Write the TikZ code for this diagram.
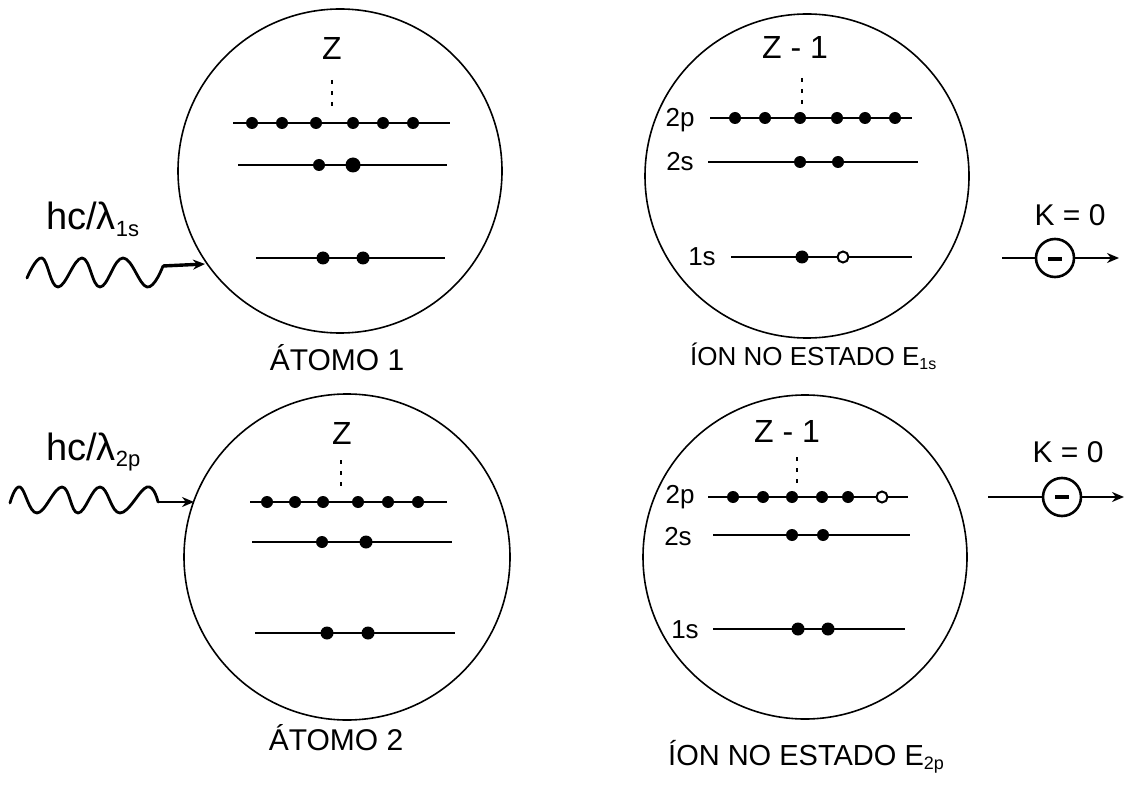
\documentclass[tikz,border=0pt]{standalone}
\usepackage{fontspec}
\setmainfont{Liberation Sans}
\usetikzlibrary{arrows.meta}
\begin{document}
\begin{tikzpicture}[x=1pt,y=-1pt,
  atom/.style={circle,draw,line width=1.6pt,inner sep=0pt,minimum size=#1},
  level/.style={line width=2.6pt},
  elec/.style={circle,draw,line width=2.6pt,inner sep=0pt,minimum size=38pt},
  wave/.style={line width=2.8pt,line cap=round,line join=round},
  arr/.style={line width=2.4pt,-{Stealth[length=12pt,width=10pt]}},
  lbl/.style={font=\fontsize{30}{32}\selectfont},
  zl/.style={font=\fontsize{32}{34}\selectfont},
  sl/.style={font=\fontsize{26}{28}\selectfont},
  hcl/.style={font=\fontsize{38}{40}\selectfont}
]
\fill[white] (0,0) rectangle (1126,799);
\useasboundingbox (0,0) rectangle (1126,799);

% ---------- circles ----------
\node[atom=324pt] (A1) at (340,171) {};
\node[atom=324pt] (I1) at (807,176) {};
\node[atom=326pt] (A2) at (347,557) {};
\node[atom=324pt] (I2) at (805,557) {};

% ---------- Atom 1 ----------
\node[zl] (z1) at (332,48) {Z};
\draw[line width=1.8pt,dash pattern=on 4pt off 7pt] (332,80) -- (332,108);
\draw[level] (233,123) -- (450,123);
\foreach \x in {252,282,316,353,383,413} \fill (\x,123) circle[radius=6pt];
\draw[level] (238,165) -- (447,165);
\fill (319,165) circle[radius=6pt];
\fill (353,165) circle[radius=7.5pt];
\draw[level] (256,258) -- (445,258);
\fill (323,258) circle[radius=6.5pt];
\fill (363,258) circle[radius=6.5pt];

% ---------- Ion 1 ----------
\node[zl] (z2) at (795,47) {Z - 1};
\draw[line width=1.8pt,dash pattern=on 4pt off 7pt] (802,78) -- (802,104);
\node[sl] (p2a) at (680,120) {2p};
\draw[level] (710,118) -- (912,118);
\foreach \x in {735,765,800,837,865,895} \fill (\x,118) circle[radius=6pt];
\node[sl] (s2a) at (680,162) {2s};
\draw[level] (708,162) -- (918,162);
\fill (800,162) circle[radius=6pt];
\fill (838,162) circle[radius=6pt];
\node[sl] (s1a) at (702,257) {1s};
\draw[level] (731,257) -- (912,257);
\fill (802,257) circle[radius=6.5pt];
\draw[line width=2pt,fill=white] (843,257) circle[radius=5.5pt];

% ---------- Atom 2 ----------
\node[zl] (z3) at (342,433) {Z};
\draw[line width=1.8pt,dash pattern=on 4pt off 7pt] (341,460) -- (341,488);
\draw[level] (250,502) -- (447,502);
\foreach \x in {267,295,323,358,388,418} \fill (\x,502) circle[radius=6pt];
\draw[level] (252,542) -- (452,542);
\fill (322,542) circle[radius=6pt];
\fill (366,542) circle[radius=6.5pt];
\draw[level] (255,633) -- (455,633);
\fill (327,633) circle[radius=6.5pt];
\fill (368,633) circle[radius=6.5pt];

% ---------- Ion 2 ----------
\node[zl] (z4) at (787,431) {Z - 1};
\draw[line width=1.8pt,dash pattern=on 4pt off 7pt] (797,457) -- (797,487);
\node[sl] (p2b) at (680,497) {2p};
\draw[level] (708,497) -- (908,497);
\foreach \x in {733,763,792,822,848} \fill (\x,497) circle[radius=6pt];
\draw[line width=2pt,fill=white] (882,497) circle[radius=5.5pt];
\node[sl] (s2b) at (678,537) {2s};
\draw[level] (713,535) -- (910,535);
\fill (792,535) circle[radius=6pt];
\fill (823,535) circle[radius=6pt];
\node[sl] (s1b) at (685,630) {1s};
\draw[level] (713,629) -- (905,629);
\fill (798,629) circle[radius=6.5pt];
\fill (828,629) circle[radius=6.5pt];

% ---------- photons ----------
\node[hcl,anchor=base west,inner sep=0pt] (h1) at (46,230) {hc/λ\textsubscript{\fontsize{22}{24}\selectfont 1s}};
\coordinate (w1s) at (163,266);
\draw[wave] plot[smooth,tension=0.7] coordinates {(27,278) (42,258) (58,287) (82,258) (100,287) (123,258) (147,287) (w1s)};
\coordinate (w1e) at (205,264);
\draw[arr,line width=3.4pt] (w1s) -- (w1e);

\node[hcl,anchor=base west,inner sep=0pt] (h2) at (46,460) {hc/λ\textsubscript{\fontsize{22}{24}\selectfont 2p}};
\coordinate (w2s) at (158,502);
\draw[wave] plot[smooth,tension=0.7] coordinates {(10,503) (20,487) (37,513) (62,487) (78,513) (100,487) (120,513) (147,487) (w2s)};
\coordinate (w2e) at (194,502);
\draw[arr] (w2s) -- (w2e);

% ---------- electrons ----------
\node[elec] (e1) at (1055,258) {};
\draw[line width=3.2pt] (1048,259) -- (1062,259);
\coordinate (e1a) at (1002,258);
\coordinate (e1b) at (1119,258);
\draw[line width=2.6pt] (e1a) -- (e1.west);
\draw[arr] (e1.east) -- (e1b);
\node[lbl] (k1) at (1070,215) {K = 0};

\node[elec] (e2) at (1062,497) {};
\draw[line width=3.2pt] (1055,497) -- (1069,497);
\coordinate (e2a) at (988,497);
\coordinate (e2b) at (1124,497);
\draw[line width=2.6pt] (e2a) -- (e2.west);
\draw[arr] (e2.east) -- (e2b);
\node[lbl] (k2) at (1068,452) {K = 0};

% ---------- captions ----------
\node[lbl] (c1) at (337,358) {ÁTOMO 1};
\node[font=\fontsize{26}{28}\selectfont,anchor=west,inner sep=0pt] (c2) at (690,356) {ÍON NO ESTADO E\textsubscript{\fontsize{16}{18}\selectfont 1s}};
\node[lbl] (c3) at (336,738) {ÁTOMO 2};
\node[font=\fontsize{29}{31}\selectfont,anchor=west,inner sep=0pt] (c4) at (668,757) {ÍON NO ESTADO E\textsubscript{\fontsize{18}{20}\selectfont 2p}};
\end{tikzpicture}
\end{document}
